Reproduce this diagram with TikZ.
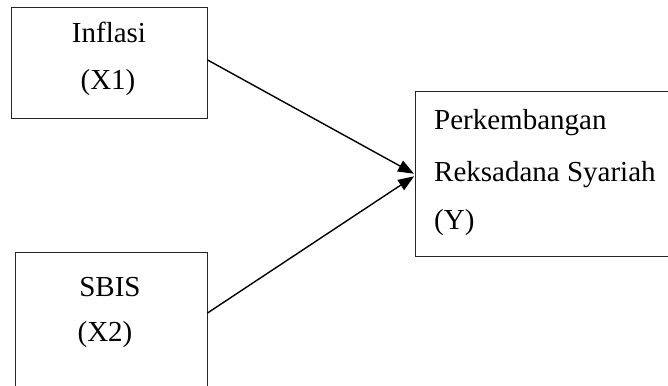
\documentclass[tikz,border=0pt]{standalone}
\usepackage{fontspec}
\setmainfont{Liberation Serif}
\usetikzlibrary{arrows.meta,calc}

\tikzset{
  varbox/.style={draw=black!85, line width=1pt, rectangle, inner sep=0pt},
  lbl/.style={inner sep=0pt, font=\fontsize{29}{34}\selectfont},
  arr/.style={line width=1.4pt, -{Triangle[length=16pt,width=12pt]}, shorten >=0.5pt}
}

\begin{document}
\begin{tikzpicture}[x=1pt,y=1pt]
  \clip (0,0) rectangle (668,385);

  % variable boxes
  \node[varbox, minimum width=195.3pt, minimum height=111.7pt] (b1) at (109.35,321.85) {};
  \node[varbox, minimum width=192pt, minimum height=162pt] (b2) at (111,51) {};
  \node[varbox, minimum width=275pt, minimum height=165pt] (b3) at (552.5,210.5) {};

  % box texts
  \node[lbl, anchor=base] (t1a) at (109,342) {Inflasi};
  \node[lbl, anchor=base] (t1b) at (108,295) {(X1)};
  \node[lbl, anchor=base] (t2a) at (110,88) {SBIS};
  \node[lbl, anchor=base] (t2b) at (105,43) {(X2)};
  \node[lbl, anchor=base west] (t3a) at (434,255) {Perkembangan};
  \node[lbl, anchor=base west] (t3b) at (434,203) {Reksadana Syariah};
  \node[lbl, anchor=base west] (t3c) at (434,155) {(Y)};

  % connector ends
  \coordinate (s1) at ($(b1.east)+(0,3.2)$);
  \coordinate (s2) at (b2.east |- 0,72);
  \coordinate (e1) at ($(b3.west)+(0,0.5)$);
  \coordinate (e2) at ($(b3.west)+(0,-1.5)$);

  \draw[arr] (s1) -- (e1);
  \draw[arr] (s2) -- (e2);
\end{tikzpicture}
\end{document}
